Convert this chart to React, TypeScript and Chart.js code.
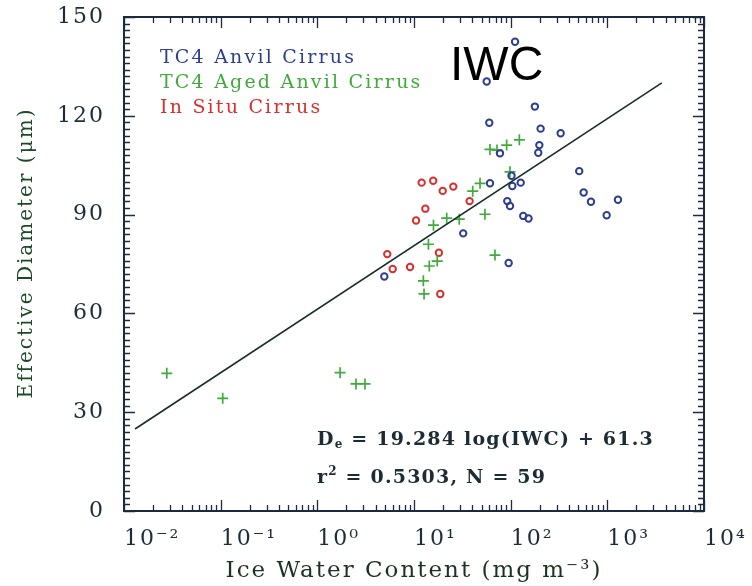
import React, { useEffect, useRef } from "react";
import { Chart, registerables } from "chart.js";

Chart.register(...registerables);

// ---- Data ----
const anvilX = [77.5, 193, 61.1, 102, 104, 127, 92.2, 98.4, 135, 153, 32.3, 95.3, 4.93, 512, 569, 677, 1288, 984, 111, 56.5, 178, 60.1, 204, 329, 198];
const anvilY = [108.6, 108.8, 99.5, 101.8, 98.7, 99.7, 94.1, 92.6, 89.6, 88.8, 84.3, 75.3, 71.2, 103.2, 96.7, 93.9, 94.5, 89.8, 142.5, 130.4, 122.8, 117.9, 116.1, 114.7, 111.1];

const agedX = [0.0277, 0.105, 1.72, 2.51, 3.11, 48.2, 40.5, 98.4, 21.8, 29.4, 54.2, 15.9, 14.1, 17.4, 14.4, 68.8, 12.5, 12.7, 61.1, 72.2, 90.9, 123];
const agedY = [41.8, 34.2, 42.0, 38.6, 38.6, 99.5, 97.1, 103.0, 88.9, 88.6, 90.1, 86.8, 81.0, 75.9, 74.4, 77.7, 69.9, 65.9, 109.8, 109.6, 111.1, 112.7];

const insituX = [12.0, 15.8, 19.8, 25.5, 37.6, 13.1, 10.5, 5.29, 6.02, 9.10, 18.1, 18.7];
const insituY = [99.7, 100.3, 97.2, 98.5, 94.1, 91.8, 88.2, 78.0, 73.5, 74.1, 78.4, 65.9];

const fitX = [0.013, 3660];
const fitY = [24.9, 130.0];

const xTickValues = [0.01, 0.1, 1, 10, 100, 1000, 10000];
const xTickLabels = ["10⁻²", "10⁻¹", "10⁰", "10¹", "10²", "10³", "10⁴"];

const legendLabels = ["TC4 Anvil Cirrus", "TC4 Aged Anvil Cirrus", "In Situ Cirrus"];
const seriesColors = ["#2d3f92", "#3fac3a", "#d9302d"];

const eqLine1 = ["D", "e", " = 19.284 log(IWC) + 61.3"];
const eqLine2 = ["r", "2", " = 0.5303, N = 59"];
const panelTitle = "IWC";

const xTitle = "Ice Water Content (mg m⁻³)";
const yTitle = "Effective Diameter (μm)";

const SERIF = "'DejaVu Serif', serif";
const TICK_COLOR = "#1d2d38";
const FRAME_COLOR = "#1c2a40";

const zip = (xs: number[], ys: number[]) => xs.map((x, i) => ({ x, y: ys[i] }));

const framePlugin = {
  id: "frameTicks",
  beforeDraw(chart: any) {
    chart.ctx.letterSpacing = "2px";
  },
  beforeDatasetsDraw(chart: any) {
    const ctx = chart.ctx;
    const { left, right, top, bottom } = chart.chartArea;
    const xs = chart.scales.x;
    const ys = chart.scales.y;
    ctx.save();
    ctx.strokeStyle = FRAME_COLOR;
    ctx.lineWidth = 1.3;
    for (let k = -2; k <= 4; k++) {
      for (let m = 1; m <= 9; m++) {
        const v = m * Math.pow(10, k);
        if (v > 10000 * 1.0001) break;
        const px = Math.round(xs.getPixelForValue(v)) + 0.5;
        const len = m === 1 ? 11 : 6;
        ctx.beginPath();
        ctx.moveTo(px, bottom);
        ctx.lineTo(px, bottom - len);
        ctx.moveTo(px, top);
        ctx.lineTo(px, top + len);
        ctx.stroke();
      }
    }
    for (let v = 0; v <= 150; v += 2) {
      const py = Math.round(ys.getPixelForValue(v)) + 0.5;
      const len = v % 30 === 0 ? 11 : 6;
      ctx.beginPath();
      ctx.moveTo(left, py);
      ctx.lineTo(left + len, py);
      ctx.moveTo(right, py);
      ctx.lineTo(right - len, py);
      ctx.stroke();
    }
    ctx.lineWidth = 2;
    ctx.strokeRect(left, top, right - left, bottom - top);
    ctx.restore();
  },
  afterDraw(chart: any) {
    const ctx = chart.ctx;
    const { left, top, bottom } = chart.chartArea;
    ctx.save();
    // y axis title
    ctx.save();
    ctx.letterSpacing = "2px";
    ctx.font = `20px ${SERIF}`;
    ctx.fillStyle = "#1d4a26";
    ctx.textAlign = "center";
    ctx.textBaseline = "middle";
    ctx.translate(left - 97, (top + bottom) / 2 - 11);
    ctx.rotate(-Math.PI / 2);
    ctx.fillText(yTitle, 0, 0);
    ctx.restore();
    // legend text
    ctx.letterSpacing = "2.2px";
    ctx.font = `19px ${SERIF}`;
    ctx.textBaseline = "alphabetic";
    ctx.textAlign = "left";
    legendLabels.forEach((t, i) => {
      ctx.fillStyle = seriesColors[i];
      ctx.fillText(t, left + 36, top + 46 + i * 25);
    });
    // panel title
    ctx.letterSpacing = "0px";
    ctx.fillStyle = "#000";
    ctx.font = `48px 'Liberation Sans', Arial, sans-serif`;
    ctx.fillText(panelTitle, left + 326, top + 63);
    // equation
    ctx.letterSpacing = "1.2px";
    ctx.fillStyle = "#1c2c34";
    const drawEq = (parts: string[], x: number, y: number, sub: boolean) => {
      ctx.font = `bold 19px ${SERIF}`;
      ctx.fillText(parts[0], x, y);
      let cx = x + ctx.measureText(parts[0]).width;
      ctx.font = `bold 12px ${SERIF}`;
      ctx.fillText(parts[1], cx, sub ? y + 3 : y - 8);
      cx += ctx.measureText(parts[1]).width;
      ctx.font = `bold 19px ${SERIF}`;
      ctx.fillText(parts[2], cx, y);
    };
    drawEq(eqLine1, left + 193, top + 428, true);
    drawEq(eqLine2, left + 193, top + 466, false);
    ctx.restore();
    ctx.letterSpacing = "0px";
  },
};

export default function App() {
  const ref = useRef<HTMLCanvasElement>(null);
  useEffect(() => {
    if (!ref.current) return;
    const chart = new Chart(ref.current, {
      type: "scatter",
      data: {
        datasets: [
          {
            label: "fit",
            type: "line",
            data: zip(fitX, fitY),
            borderColor: "#1a2c2c",
            borderWidth: 1.6,
            pointRadius: 0,
            showLine: true,
            fill: false,
          } as any,
          {
            label: legendLabels[0],
            data: zip(anvilX, anvilY),
            pointStyle: "circle",
            pointRadius: 3.2,
            borderWidth: 2,
            borderColor: seriesColors[0],
            backgroundColor: "rgba(255,255,255,0)",
          },
          {
            label: legendLabels[1],
            data: zip(agedX, agedY),
            pointStyle: "cross",
            pointRadius: 5.5,
            borderWidth: 1.7,
            borderColor: seriesColors[1],
            backgroundColor: seriesColors[1],
          },
          {
            label: legendLabels[2],
            data: zip(insituX, insituY),
            pointStyle: "circle",
            pointRadius: 3.2,
            borderWidth: 2,
            borderColor: seriesColors[2],
            backgroundColor: "rgba(255,255,255,0)",
          },
        ],
      },
      options: {
        responsive: false,
        animation: false,
        devicePixelRatio: 1,
        layout: { padding: { left: 0, top: 17, right: 48, bottom: 0 } },
        plugins: { legend: { display: false }, tooltip: { enabled: false } },
        scales: {
          x: {
            type: "logarithmic",
            min: 0.01,
            max: 10000,
            position: "bottom",
            afterFit: (s: any) => {
              s.height = 75;
              s.paddingLeft = 0;
              s.paddingRight = 0;
            },
            afterBuildTicks: (s: any) => {
              s.ticks = xTickValues.map((v) => ({ value: v }));
            },
            ticks: {
              autoSkip: false,
              maxRotation: 0,
              align: "start",
              padding: 15,
              color: TICK_COLOR,
              font: { family: SERIF, size: 22 },
              callback: (v: any) => {
                const i = xTickValues.findIndex((t) => Math.abs(t - v) / t < 1e-6);
                return i >= 0 ? xTickLabels[i] : "";
              },
            },
            grid: { display: false, drawTicks: false },
            border: { display: false },
            title: {
              display: true,
              text: xTitle,
              color: "#1c3322",
              font: { family: SERIF, size: 23 },
              padding: { top: 0, bottom: 1 },
            },
          },
          y: {
            min: 0,
            max: 150,
            afterFit: (s: any) => {
              s.width = 124;
              s.paddingTop = 0;
              s.paddingBottom = 0;
            },
            ticks: {
              stepSize: 30,
              padding: 19,
              color: TICK_COLOR,
              font: { family: SERIF, size: 22 },
            },
            grid: { display: false, drawTicks: false },
            border: { display: false },
            title: { display: false },
          },
        },
      },
      plugins: [framePlugin],
    } as any);
    return () => chart.destroy();
  }, []);
  return (
    <div style={{ position: "absolute", left: 0, top: 0, width: 752, height: 586, background: "#fff" }}>
      <canvas ref={ref} width={752} height={586} style={{ display: "block" }} />
    </div>
  );
}
